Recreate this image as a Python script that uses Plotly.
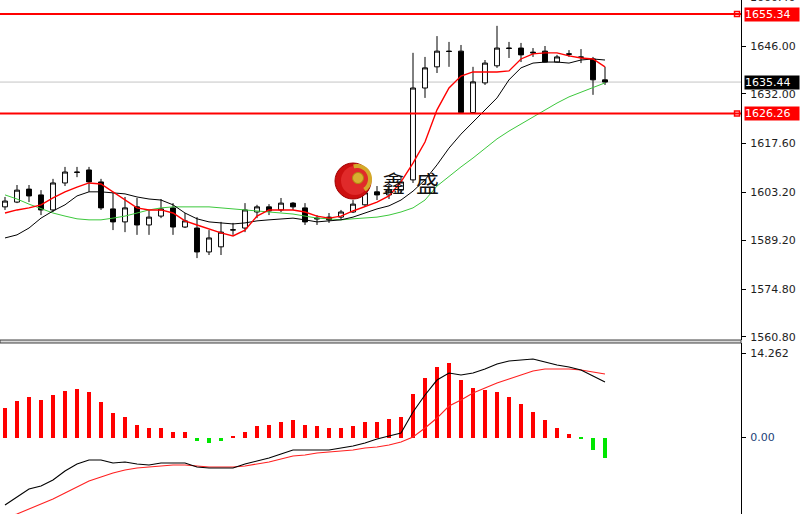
import numpy as np
import plotly.graph_objects as go

# ---------------- data ----------------
open_ = [1598.9,1600.3,1604.1,1602.4,1598.0,1605.9,1609.1,1609.7,1606.2,1598.3,
         1594.5,1598.9,1593.6,1596.2,1598.6,1593.0,1592.7,1585.7,1587.2,1592.1,
         1592.7,1597.4,1598.9,1598.0,1600.0,1598.6,1595.6,1595.9,1595.9,1597.4,
         1599.5,1603.3,1602.4,1603.8,1606.8,1633.7,1639.9,1644.5,1644.5,1626.5,
         1635.2,1640.2,1645.4,1645.4,1644.2,1644.5,1641.3,1643.7,1642.8,1642.2,1636.1]
high = [1601.8,1605.3,1605.3,1603.8,1607.1,1610.6,1610.6,1610.6,1607.1,1603.0,
        1601.8,1601.5,1598.0,1601.2,1600.0,1597.1,1595.9,1592.1,1594.5,1594.2,
        1600.0,1599.5,1599.7,1601.5,1600.3,1600.0,1596.5,1597.1,1598.0,1600.9,
        1604.7,1605.0,1605.3,1607.9,1644.0,1642.8,1648.9,1647.2,1646.3,1639.9,
        1641.9,1651.9,1647.2,1646.9,1645.4,1646.0,1643.4,1644.8,1645.1,1642.8,1639.9]
low = [1598.0,1600.0,1600.3,1596.5,1597.4,1605.0,1607.6,1603.3,1598.0,1592.1,
       1591.5,1590.7,1590.7,1595.6,1590.7,1592.7,1583.9,1584.8,1584.8,1590.7,
       1591.5,1595.6,1596.5,1597.4,1598.0,1593.6,1593.6,1594.2,1595.1,1597.1,
       1598.9,1600.9,1601.2,1603.0,1605.9,1630.8,1638.1,1639.9,1626.3,1626.3,
       1634.6,1639.6,1642.5,1641.3,1642.8,1641.2,1641.2,1642.8,1641.0,1631.7,1634.6]
close = [1600.6,1603.8,1602.1,1598.0,1605.9,1609.1,1609.0,1606.2,1598.6,1594.5,
         1598.6,1593.6,1595.9,1598.3,1593.0,1594.8,1585.7,1589.8,1591.5,1592.2,
         1598.0,1598.9,1597.7,1600.0,1598.9,1594.5,1595.4,1595.1,1597.4,1599.7,
         1603.0,1602.4,1603.8,1606.2,1633.7,1639.6,1644.5,1644.4,1626.5,1635.5,
         1641.0,1645.4,1645.3,1643.4,1644.0,1641.3,1642.8,1643.6,1642.7,1636.1,1635.44]

ma_fast = [1597.1,1598.0,1598.6,1599.5,1601.5,1603.3,1604.7,1605.9,1605.6,1603.3,
           1600.9,1598.6,1598.0,1598.0,1597.1,1594.8,1593.6,1592.4,1591.3,1590.4,
           1592.1,1596.2,1598.0,1598.0,1598.0,1597.4,1596.2,1595.6,1596.2,1597.7,
           1598.9,1600.3,1602.1,1606.2,1611.7,1617.9,1627.3,1633.7,1637.2,1638.4,
           1638.4,1638.4,1638.7,1642.2,1643.7,1644.0,1644.0,1643.1,1642.5,1642.2,1639.9]
ma_mid = [1589.8,1590.7,1592.7,1595.6,1597.7,1599.5,1602.1,1603.3,1603.3,1603.0,
          1602.7,1601.8,1601.2,1600.9,1599.5,1597.1,1595.4,1594.5,1594.2,1593.9,
          1594.2,1594.8,1595.1,1595.4,1595.6,1595.1,1594.5,1594.8,1595.1,1595.9,
          1597.1,1598.3,1599.2,1600.9,1603.5,1606.8,1611.2,1616.1,1620.2,1623.8,
          1627.3,1630.8,1636.1,1639.6,1641.0,1641.3,1641.3,1641.0,1641.9,1642.2,1641.9]
ma_slow = [1602.4,1601.2,1599.7,1598.3,1597.1,1596.2,1595.4,1595.1,1595.1,1595.6,
           1596.2,1597.1,1598.0,1598.6,1598.9,1598.9,1598.9,1598.9,1598.6,1598.3,
           1598.0,1597.7,1597.4,1597.1,1596.8,1596.2,1595.6,1595.4,1595.1,1595.4,
           1595.6,1595.9,1596.5,1597.4,1598.6,1600.9,1605.0,1607.9,1610.6,1613.2,
           1616.1,1618.8,1621.1,1623.2,1625.2,1627.3,1629.3,1631.1,1632.5,1634.0,1635.2]

dif = [-11.46,-10.10,-8.74,-8.24,-7.22,-5.69,-4.50,-3.82,-3.82,-4.33,
       -4.16,-4.50,-4.67,-4.33,-4.33,-4.33,-5.01,-5.18,-5.18,-5.18,
       -4.50,-3.99,-3.48,-2.80,-2.12,-2.12,-2.12,-2.12,-1.78,-1.44,
       -0.93,-0.25,0.25,0.76,4.33,7.22,9.76,10.95,10.61,10.95,
       11.63,12.48,12.99,13.16,13.33,12.82,12.31,11.97,11.46,10.44,9.42]
dea = [-13.67,-12.99,-12.14,-11.29,-10.44,-9.42,-8.41,-7.39,-6.71,-6.03,
       -5.52,-5.18,-5.01,-4.84,-4.67,-4.67,-4.84,-5.01,-5.01,-5.01,
       -4.84,-4.50,-4.16,-3.65,-3.14,-2.97,-2.63,-2.46,-2.29,-2.12,
       -1.78,-1.61,-1.27,-0.76,0.08,1.61,3.31,5.35,6.37,7.56,
       8.41,9.25,9.93,10.61,11.29,11.63,11.63,11.63,11.46,11.12,10.78]
hist = [5.0,6.2,6.9,6.4,7.2,7.9,8.2,7.7,6.0,4.2,
        3.4,2.2,1.7,1.7,0.9,0.9,-0.6,-0.9,-0.6,0.2,
        0.9,2.0,2.2,2.7,3.0,2.2,2.0,1.7,1.7,2.0,
        2.7,2.7,3.1,3.4,7.4,10.1,12.0,12.6,9.7,8.4,
        8.0,7.7,6.9,5.7,4.4,3.0,1.7,0.6,-0.3,-2.1,-3.4]

price_ticks = [1560.80, 1574.80, 1589.20, 1603.20, 1617.60, 1632.00, 1646.00]
top_clipped_tick = "1660.40"
macd_ticks = [0.0, 14.262]
resistance = 1655.34
support = 1626.26
last_price = 1635.44

# ---------------- figure ----------------
W, H = 800, 514
PW = 741                       # plot width in px
x = list(range(len(close)))
x_range = [-5 / 12, (PW - 5) / 12]
p_range = [1559.92, 1659.47]
m_range = [-12.99, 16.05]
main_dom = [1 - 340 / H, 1]
macd_dom = [0, 1 - 343 / H]

fig = go.Figure()

fig.add_trace(go.Candlestick(
    x=x, open=open_, high=high, low=low, close=close,
    increasing=dict(line=dict(color="black", width=1), fillcolor="white"),
    decreasing=dict(line=dict(color="black", width=1), fillcolor="black"),
    whiskerwidth=0, xaxis="x", yaxis="y", showlegend=False, hoverinfo="skip"))

fig.add_trace(go.Scatter(x=x, y=ma_slow, mode="lines", line=dict(color="#3cc83c", width=1),
                         xaxis="x", yaxis="y", showlegend=False, hoverinfo="skip"))
fig.add_trace(go.Scatter(x=x, y=ma_mid, mode="lines", line=dict(color="#000000", width=1),
                         xaxis="x", yaxis="y", showlegend=False, hoverinfo="skip"))
fig.add_trace(go.Scatter(x=x, y=ma_fast, mode="lines", line=dict(color="#ff0000", width=1.4),
                         xaxis="x", yaxis="y", showlegend=False, hoverinfo="skip"))

# markers on the horizontal lines near the right edge
fig.add_trace(go.Scatter(x=[x_range[1] - 0.33] * 2, y=[resistance, support], mode="markers",
                         marker=dict(symbol="square", size=5, color="white",
                                     line=dict(color="#ff0000", width=1.5)),
                         xaxis="x", yaxis="y", showlegend=False, hoverinfo="skip"))

# MACD panel
bar_colors = ["#ff0000" if v >= 0 else "#00e600" for v in hist]
fig.add_trace(go.Bar(x=x, y=hist, width=0.34, marker=dict(color=bar_colors, line=dict(width=0)),
                     xaxis="x2", yaxis="y2", showlegend=False, hoverinfo="skip"))
fig.add_trace(go.Scatter(x=x, y=dea, mode="lines", line=dict(color="#ff2020", width=1.1),
                         xaxis="x2", yaxis="y2", showlegend=False, hoverinfo="skip"))
fig.add_trace(go.Scatter(x=x, y=dif, mode="lines", line=dict(color="#000000", width=1.1),
                         xaxis="x2", yaxis="y2", showlegend=False, hoverinfo="skip"))

shapes = []
shapes.append(dict(type="line", xref="x domain", yref="y", x0=0, x1=1, y0=last_price, y1=last_price,
                   line=dict(color="#c4c4c4", width=1), layer="below"))
for lv in (resistance, support):
    shapes.append(dict(type="line", xref="x domain", yref="y", x0=0, x1=1, y0=lv, y1=lv,
                       line=dict(color="#ff0000", width=2)))
shapes.append(dict(type="rect", xref="paper", yref="paper", x0=0, x1=1,
                   y0=1 - 343 / H, y1=1 - 340 / H, fillcolor="#d8d8d8",
                   line=dict(color="#404040", width=1)))

# logo (pixel-sized shapes)
def anchor(px, py):
    return px / PW, 1 - py / H

ax_, ay_ = anchor(353, 181)
shapes.append(dict(type="circle", xref="paper", yref="paper", xsizemode="pixel", ysizemode="pixel",
                   xanchor=ax_, yanchor=ay_, x0=-18, x1=18, y0=-18, y1=18,
                   fillcolor="#cc1010", line=dict(color="#a00000", width=1)))
shapes.append(dict(type="circle", xref="paper", yref="paper", xsizemode="pixel", ysizemode="pixel",
                   xanchor=ax_, yanchor=ay_, x0=-12, x1=16, y0=-14, y1=15,
                   fillcolor="#e02a2a", line=dict(width=0)))
ang = np.linspace(np.radians(-55), np.radians(105), 30)
cx, cy = 4, 2
outer = [(cx + 15 * np.cos(a), cy + 15 * np.sin(a)) for a in ang]
inner = [(cx + 11 * np.cos(a), cy + 11 * np.sin(a)) for a in ang[::-1]]
pts = outer + inner
path = "M " + " L ".join(f"{px:.2f},{py:.2f}" for px, py in pts) + " Z"
shapes.append(dict(type="path", xref="paper", yref="paper", xsizemode="pixel", ysizemode="pixel",
                   xanchor=ax_, yanchor=ay_, path=path, fillcolor="#d4a82a", line=dict(width=0)))
shapes.append(dict(type="circle", xref="paper", yref="paper", xsizemode="pixel", ysizemode="pixel",
                   xanchor=ax_, yanchor=ay_, x0=-0.5, x1=10.5, y0=-2.5, y1=8.5,
                   fillcolor="#d8b030", line=dict(color="#b08a10", width=1)))

annotations = []
for ch, px in (("鑫", 393), ("盛", 427)):
    axp, ayp = anchor(px, 182)
    annotations.append(dict(text=ch, xref="paper", yref="paper", x=axp, y=ayp, showarrow=False,
                            xanchor="center", yanchor="middle",
                            font=dict(family="Noto Sans CJK SC", size=23, color="#111111")))

lab_font = dict(family="DejaVu Sans", size=11, color="white")
for lv, col in ((resistance, "#ff0000"), (last_price, "#000000"), (support, "#ff0000")):
    annotations.append(dict(text=f"{lv:.2f}", xref="paper", yref="y", x=1, y=lv, xanchor="left",
                            yanchor="middle", xshift=3, showarrow=False, bgcolor=col,
                            font=lab_font, width=54, height=13, align="left", borderpad=0))
annotations.append(dict(text=top_clipped_tick, xref="paper", yref="paper", x=1, y=1, xanchor="left",
                        yanchor="middle", xshift=7, yshift=3, showarrow=False,
                        font=dict(family="DejaVu Sans", size=11, color="#1e1e1e")))

tick_font = dict(family="DejaVu Sans", size=11, color="#1e1e1e")
fig.update_layout(
    width=W, height=H, autosize=False,
    margin=dict(l=0, r=W - PW, t=0, b=0, pad=0),
    paper_bgcolor="white", plot_bgcolor="white",
    boxgap=0.42,
    xaxis=dict(domain=[0, 1], range=x_range, anchor="y", visible=False,
               rangeslider=dict(visible=False), fixedrange=True),
    xaxis2=dict(domain=[0, 1], range=x_range, anchor="y2", visible=False, matches="x"),
    yaxis=dict(domain=main_dom, range=p_range, side="right", anchor="x",
               tickvals=price_ticks, ticktext=[f"{v:.2f}" for v in price_ticks],
               ticks="outside", ticklen=4, tickcolor="black", showline=True, linecolor="black",
               linewidth=1, showgrid=False, zeroline=False, tickfont=tick_font,
               ticklabelstandoff=2, automargin=False),
    yaxis2=dict(domain=macd_dom, range=m_range, side="right", anchor="x2",
                tickvals=macd_ticks,
                ticktext=["<span style='color:#1c3f78'>0.00</span>", "14.262"],
                ticks="outside", ticklen=4, tickcolor="black", showline=True, linecolor="black",
                linewidth=1, showgrid=False, zeroline=False, tickfont=tick_font,
                ticklabelstandoff=2, automargin=False),
    shapes=shapes, annotations=annotations,
    bargap=0, showlegend=False,
)

fig.write_html("out.html", config={"displayModeBar": False},
               post_script="document.body.style.margin='0px';")
